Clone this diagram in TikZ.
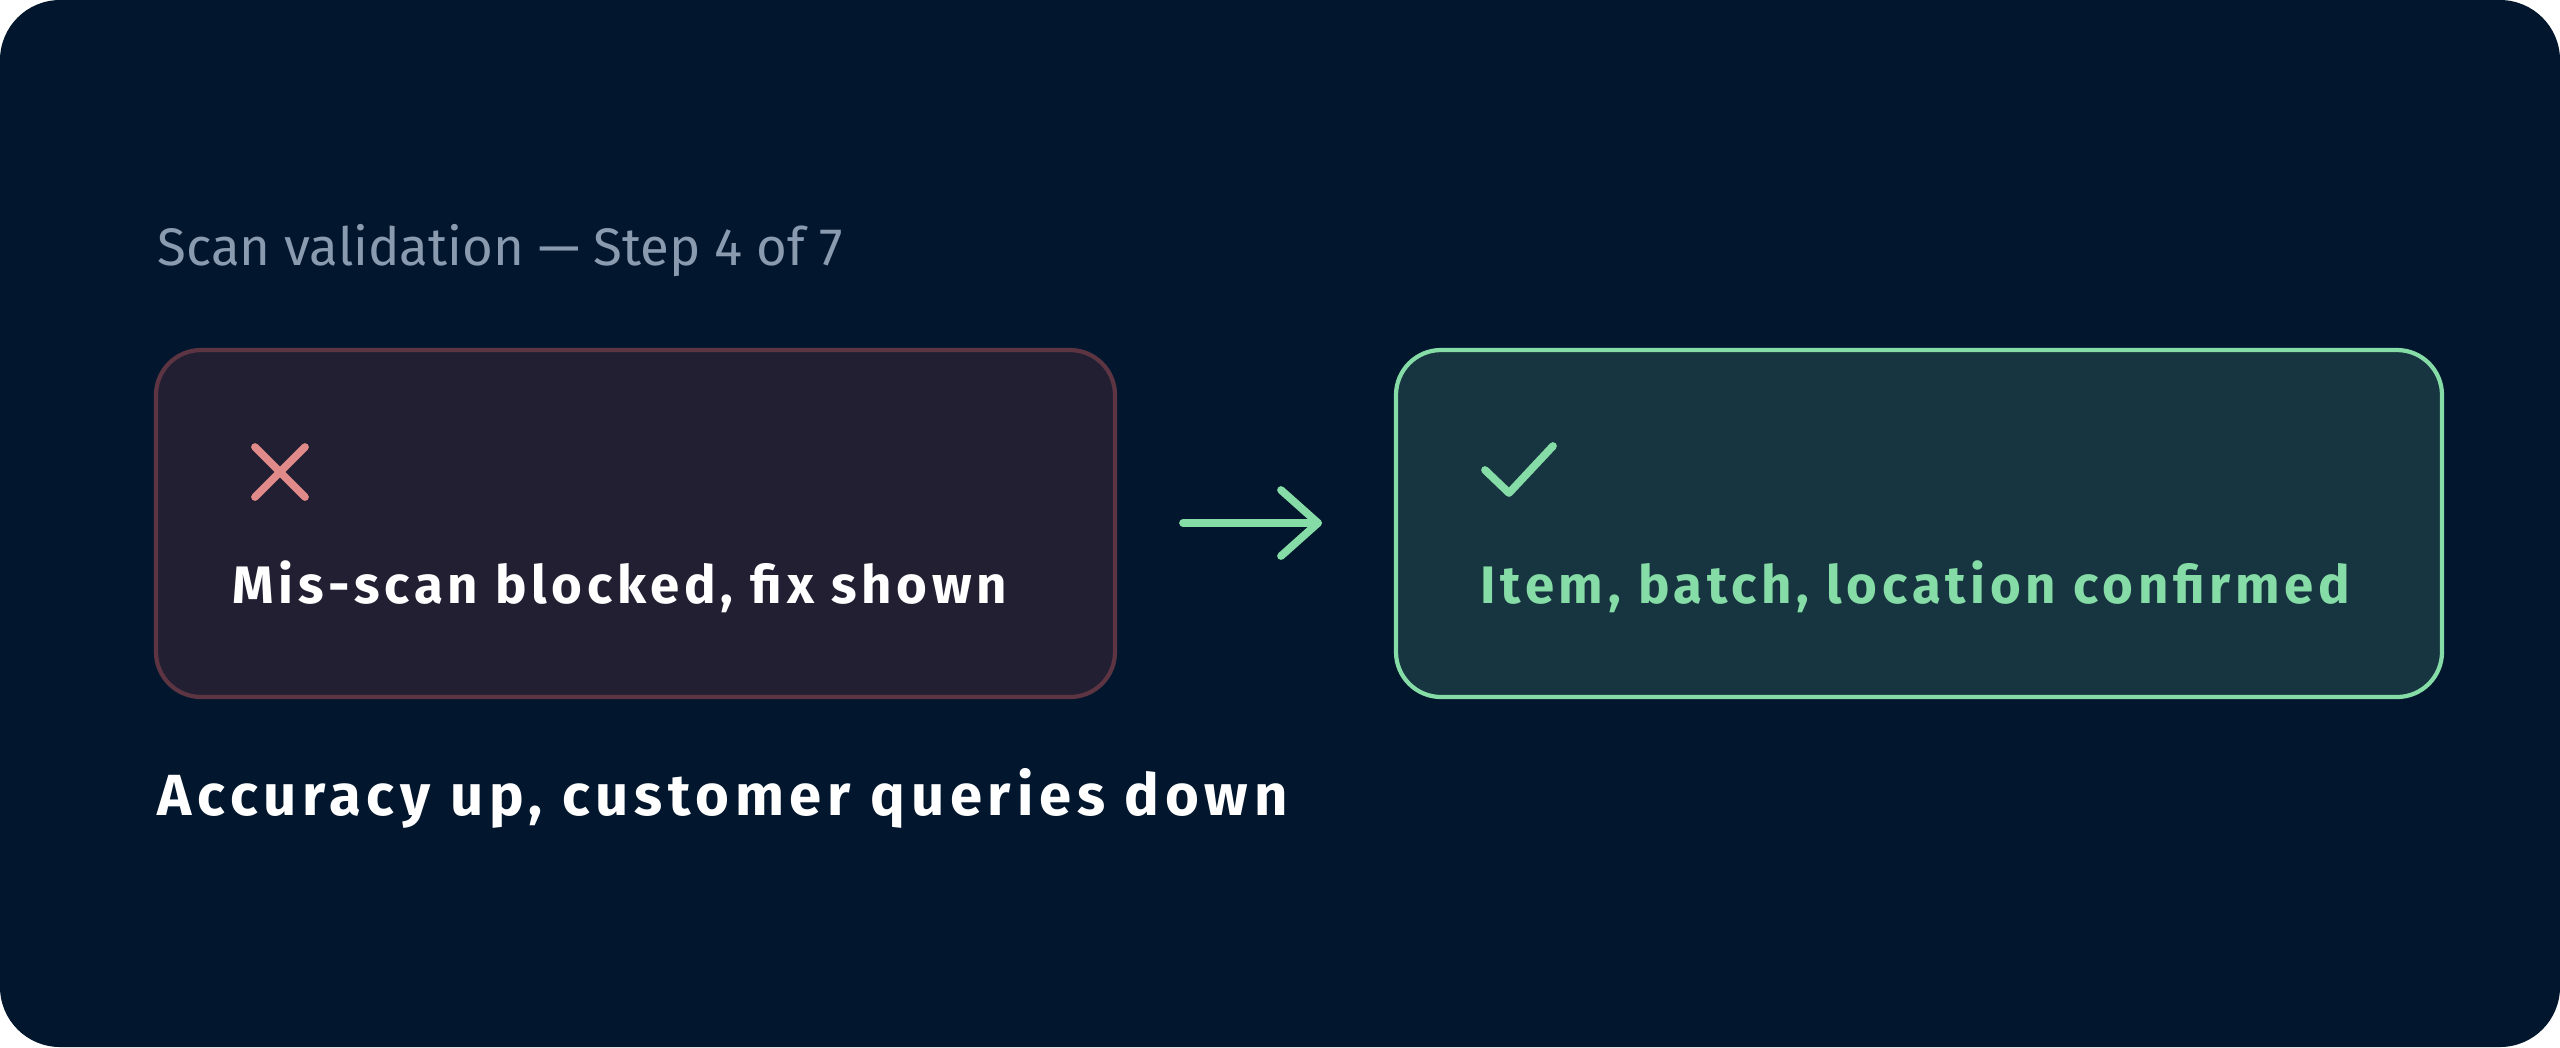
\documentclass[tikz,border=0pt]{standalone}
\usepackage{fontspec}
\setmainfont{Fira Sans}
\usetikzlibrary{arrows.meta}
\definecolor{pagebg}{HTML}{02172E}
\definecolor{titlegray}{HTML}{8A9BB0}
\definecolor{badfill}{HTML}{221F33}
\definecolor{badline}{HTML}{5C3442}
\definecolor{badmark}{HTML}{E08A8A}
\definecolor{goodfill}{HTML}{173540}
\definecolor{goodline}{HTML}{86DCA6}

\begin{document}
\begin{tikzpicture}[x=0.01cm,y=-0.01cm,
card/.style={rounded corners=0.45cm,line width=1.2pt},
cardtext/.style={anchor=base west,inner sep=0pt,
  font=\fontsize{15}{18}\selectfont\bfseries\addfontfeatures{LetterSpace=9}},
glyph/.style={line width=2.2pt,line cap=round,line join=round}]

\fill[white] (0,0) rectangle (2560,1047);
\fill[pagebg,rounded corners=0.6cm] (0,0) rectangle (2560,1047);
\useasboundingbox (0,0) rectangle (2560,1047);

\node (title) [anchor=base west,inner sep=0pt,text=titlegray,
  font=\fontsize{15}{18}\selectfont] at (157,265)
  {Scan validation — Step 4 of 7};

% left card
\draw[card,fill=badfill,draw=badline] (156,350) rectangle (1115,697);
\draw[glyph,badmark] (255,447) -- (305,497) (305,447) -- (255,497);
\node (bad) [cardtext,text=white] at (232,603) {Mis-scan blocked, fix shown};

% right card
\draw[card,fill=goodfill,draw=goodline] (1396,350) rectangle (2442,697);
\draw[glyph,goodline] (1485,470) -- (1509,493) -- (1553,446);
\node (good) [cardtext,text=goodline] at (1480,603) {Item, batch, location confirmed};

% arrow between the cards
\coordinate (from) at (1183,523);
\coordinate (to) at (1318,523);
\draw[glyph,goodline] (from) -- (to);
\draw[glyph,goodline] (1281,490) -- (to) -- (1281,556);

\node (note) [cardtext,text=white,
  font=\fontsize{16.5}{20}\selectfont\bfseries\addfontfeatures{LetterSpace=10}]
  at (157,815) {Accuracy up, customer queries down};
\end{tikzpicture}
\end{document}
